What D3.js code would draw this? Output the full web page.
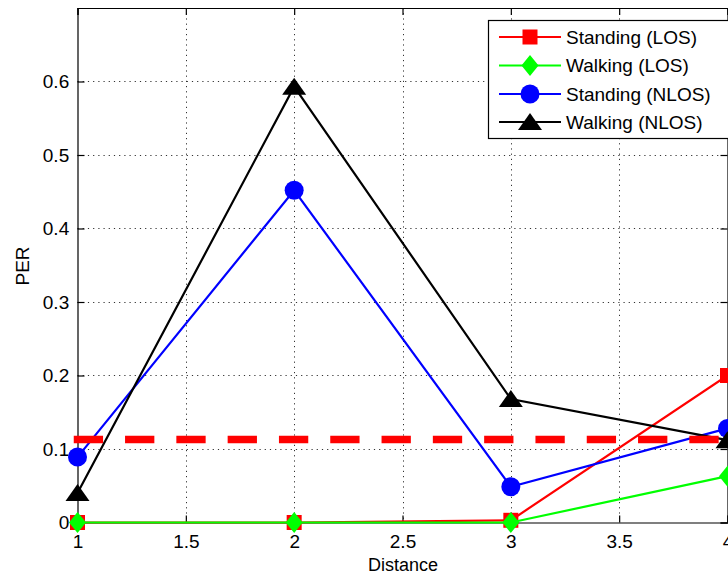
<!DOCTYPE html>
<html>
<head>
<meta charset="utf-8">
<script src="https://cdn.jsdelivr.net/npm/d3@7"></script>
<style>
  html, body { margin: 0; padding: 0; background: #fff; }
  svg { display: block; }
  text { font-family: "Liberation Sans", Arial, sans-serif; fill: #000; }
</style>
</head>
<body>
<svg id="chart" width="728" height="575"></svg>
<script>
// ---- data ----
const distances = [1, 2, 3, 4];
const standingLOS  = [0, 0, 0.003, 0.2];
const walkingLOS   = [0, 0, 0, 0.063];
const standingNLOS = [0.089, 0.452, 0.0487, 0.128];
const walkingNLOS  = [0.04, 0.593, 0.168, 0.112];
const threshold = 0.113;
const xTicks = [1, 1.5, 2, 2.5, 3, 3.5, 4];
const yTicks = [0, 0.1, 0.2, 0.3, 0.4, 0.5, 0.6];
const seriesNames = ["Standing (LOS)", "Walking (LOS)", "Standing (NLOS)", "Walking (NLOS)"];
const seriesColors = ["#ff0000", "#00ff00", "#0000ff", "#000000"];
const seriesMarkers = ["square", "diamond", "circle", "triangle"];
const xLabel = "Distance";
const yLabel = "PER";

const seriesValues = [standingLOS, walkingLOS, standingNLOS, walkingNLOS];

const svg = d3.select("#chart");
const L = 77.5, R = 727.5, T = 8, B = 522.5;
const x = d3.scaleLinear().domain([1, 4]).range([L, R]);
const y = d3.scaleLinear().domain([0, 0.7]).range([B, T]);

// grid
const grid = svg.append("g").attr("stroke", "#333").attr("stroke-width", 1)
  .attr("stroke-dasharray", "1.2,4");
grid.selectAll(".gx").data(xTicks.slice(1, -1)).join("line")
  .attr("x1", d => Math.round(x(d)) + 0.5).attr("x2", d => Math.round(x(d)) + 0.5)
  .attr("y1", T).attr("y2", B);
grid.selectAll(".gy").data(yTicks.slice(1)).join("line")
  .attr("y1", d => Math.round(y(d)) + 0.5).attr("y2", d => Math.round(y(d)) + 0.5)
  .attr("x1", L).attr("x2", R);

// axes
const fs = 19;
const axB = svg.append("g").attr("transform", `translate(0,${B})`)
  .call(d3.axisBottom(x).tickValues(xTicks).tickFormat(d3.format("")).tickSize(-7).tickPadding(12));
const axT = svg.append("g").attr("transform", `translate(0,${T})`)
  .call(d3.axisTop(x).tickValues(xTicks).tickSize(-7).tickFormat(""));
const axL = svg.append("g").attr("transform", `translate(${L},0)`)
  .call(d3.axisLeft(y).tickValues(yTicks).tickFormat(d3.format("")).tickSize(-7).tickPadding(14));
const axR = svg.append("g").attr("transform", `translate(${R},0)`)
  .call(d3.axisRight(y).tickValues(yTicks).tickSize(-7).tickFormat(""));
[axB, axT, axL, axR].forEach(a => {
  a.select(".domain").attr("stroke", "#000").attr("stroke-width", 1.2);
  a.selectAll(".tick line").attr("stroke", "#000").attr("stroke-width", 1.2);
  a.selectAll("text").attr("font-size", fs)
    .attr("font-family", "'Liberation Sans', Arial, sans-serif").attr("fill", "#000");
});
axL.selectAll("text").attr("dx", "0.3em");

// axis labels
svg.append("text").attr("x", 403).attr("y", 571).attr("text-anchor", "middle")
  .attr("font-size", 18).text(xLabel);
svg.append("text").attr("transform", "translate(29,266) rotate(-90)")
  .attr("text-anchor", "middle").attr("font-size", 19).text(yLabel);

// marker drawing
function marker(g, type, color) {
  if (type === "square") {
    g.append("rect").attr("x", -7.5).attr("y", -7.5).attr("width", 15).attr("height", 15)
      .attr("fill", color);
  } else if (type === "diamond") {
    g.append("path").attr("d", "M0,-10.5L8.5,0L0,10.5L-8.5,0Z").attr("fill", color);
  } else if (type === "circle") {
    g.append("circle").attr("r", 9.5).attr("fill", color);
  } else if (type === "triangle") {
    g.append("path").attr("d", "M0,-9L12,8L-12,8Z").attr("fill", color);
  }
}

const line = d3.line().x((d, i) => x(distances[i])).y(d => y(d));
const plot = svg.append("g");
seriesValues.forEach((vals, si) => {
  plot.append("path").attr("d", line(vals)).attr("fill", "none")
    .attr("stroke", seriesColors[si]).attr("stroke-width", 2.2);
  vals.forEach((v, i) => {
    const g = plot.append("g").attr("transform", `translate(${x(distances[i])},${y(v)})`);
    marker(g, seriesMarkers[si], seriesColors[si]);
  });
});

// threshold dashed line
svg.append("line").attr("x1", x(1)).attr("x2", x(4))
  .attr("y1", y(threshold)).attr("y2", y(threshold))
  .attr("stroke", "#ff0000").attr("stroke-width", 7.5)
  .attr("stroke-linecap", "square").attr("stroke-dasharray", "21.8,29.5");

// legend
const leg = svg.append("g");
leg.append("rect").attr("x", 488.5).attr("y", 20.5).attr("width", 260).attr("height", 118)
  .attr("fill", "#fff").attr("stroke", "#000").attr("stroke-width", 1.2);
const legY = [37, 65.5, 94, 122];
seriesNames.forEach((name, i) => {
  leg.append("line").attr("x1", 499).attr("x2", 561).attr("y1", legY[i]).attr("y2", legY[i])
    .attr("stroke", seriesColors[i]).attr("stroke-width", 2.2);
  const g = leg.append("g").attr("transform", `translate(530,${legY[i]})`);
  marker(g, seriesMarkers[i], seriesColors[i]);
  leg.append("text").attr("x", 566).attr("y", legY[i]).attr("dy", "0.36em")
    .attr("font-size", 19).text(name);
});
</script>
</body>
</html>
